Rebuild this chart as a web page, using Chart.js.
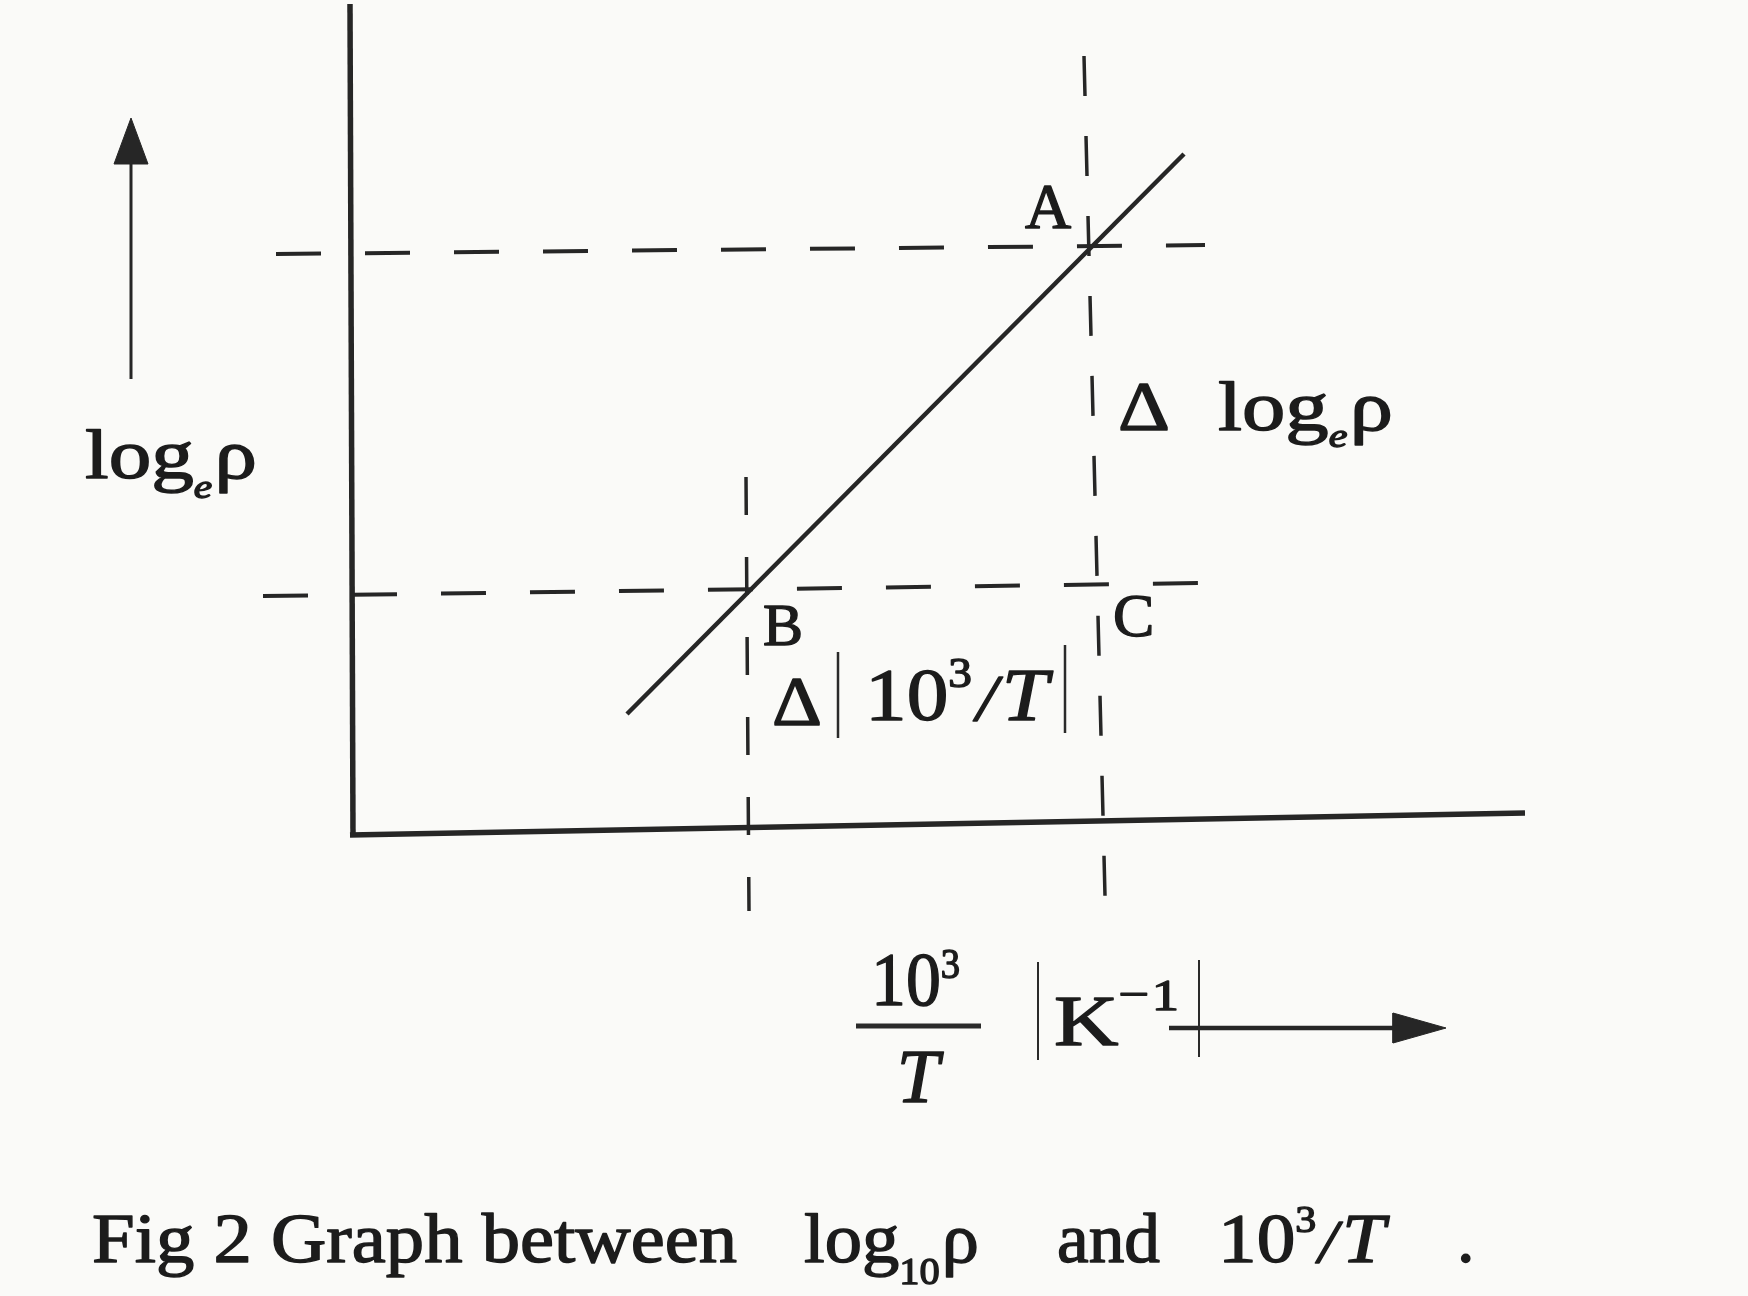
<!DOCTYPE html>
<html lang="en">
<head>
<meta charset="UTF-8">
<title>Graph between log10 ρ and 10³/T</title>
<script src="https://cdn.jsdelivr.net/npm/chart.js"></script>
<style>
  body { margin: 0; background: #fafaf8; }
  #wrap { width: 1748px; height: 1296px; }
  canvas { display: block; }
</style>
</head>
<body>
<div id="wrap"><canvas id="fig" width="1748" height="1296"></canvas></div>
<script>
// schematic values (x ~ 10^3/T, y ~ log_e rho, arbitrary units,
// origin at the corner of the axes)
const fitX = [2.77, 8.34];
const fitY = [1.21, 6.81];

const pointNames = ['A', 'B', 'C'];
const pointX = [7.40, 3.99, 7.47];
const pointY = [5.88, 2.41, 2.45];

// dashed construction lines through A and B
const levelAX = [-0.74, 8.55];
const levelAY = [5.81, 5.90];
const levelBX = [-0.87, 8.55];
const levelBY = [2.39, 2.52];
const dropBX = [3.96, 3.99];
const dropBY = [3.58, -0.76];
const dropAX = [7.34, 7.55];
const dropAY = [7.79, -0.61];

// axes (the scan is a little skewed)
const yAxisX = [0, 0.03];
const yAxisY = [8.31, 0];
const xAxisX = [0, 11.75];
const xAxisY = [0, 0.22];

// direction arrows next to the axis titles
const upShaftX = [-2.19, -2.19];
const upShaftY = [4.56, 6.80];
const upHeadX = [-2.19, -2.36, -2.02, -2.19];
const upHeadY = [7.17, 6.71, 6.71, 7.17];
const rightShaftX = [8.19, 10.50];
const rightShaftY = [-1.93, -1.93];
const rightHeadX = [10.96, 10.43, 10.43, 10.96];
const rightHeadY = [-1.93, -1.78, -2.08, -1.93];

const ink = '#262626';
const serif = '"Liberation Serif", "Times New Roman", serif';

const zip = (xs, ys) => xs.map((x, i) => ({ x: x, y: ys[i] }));

function lineSet(xs, ys, width, dash) {
  return {
    data: zip(xs, ys),
    showLine: true,
    borderColor: ink,
    borderWidth: width,
    borderDash: dash || [],
    borderCapStyle: 'butt',
    pointRadius: 0,
    fill: false,
    tension: 0
  };
}

function headSet(xs, ys) {
  return {
    data: zip(xs, ys),
    showLine: true,
    borderColor: ink,
    backgroundColor: ink,
    borderWidth: 1,
    pointRadius: 0,
    fill: 'shape'
  };
}

function fontOf(p) {
  return (p[2] ? 'italic ' : '') + p[1] + 'px ' + serif;
}

// draws a run of text pieces (text, size, italic, dy, gap), optionally stretched to a width
function drawGroup(ctx, x, y, parts, width, align) {
  let natural = 0;
  parts.forEach(p => {
    ctx.font = fontOf(p);
    natural += ctx.measureText(p[0]).width + (p[4] || 0);
  });
  const sx = width ? width / natural : 1;
  ctx.save();
  ctx.translate(align === 'center' ? x - natural * sx / 2 : x, y);
  ctx.scale(sx, 1);
  let cx = 0;
  parts.forEach(p => {
    ctx.font = fontOf(p);
    ctx.fillText(p[0], cx, p[3] || 0);
    ctx.strokeText(p[0], cx, p[3] || 0);
    cx += ctx.measureText(p[0]).width + (p[4] || 0);
  });
  ctx.restore();
}

const sketchText = {
  id: 'sketchText',
  beforeDraw(chart) {
    const ctx = chart.ctx;
    ctx.save();
    ctx.fillStyle = '#fafaf8';
    ctx.fillRect(0, 0, chart.width, chart.height);
    ctx.restore();
  },
  afterDatasetsDraw(chart, args, opts) {
    const ctx = chart.ctx;
    const xs = chart.scales.x, ys = chart.scales.y;
    const px = v => xs.getPixelForValue(v);
    const py = v => ys.getPixelForValue(v);
    ctx.save();
    ctx.fillStyle = '#1c1c1c';
    ctx.strokeStyle = '#1c1c1c';
    ctx.lineWidth = 1.4;
    ctx.lineJoin = 'round';
    ctx.textBaseline = 'alphabetic';
    ctx.textAlign = 'left';

    // point names next to the intersections
    pointNames.forEach((name, i) => {
      const off = opts.pointOffsets[i];
      drawGroup(ctx, px(pointX[i]) + off[0], py(pointY[i]) + off[1], [[name, off[2]]]);
    });

    opts.notes.forEach(n => {
      drawGroup(ctx, px(n.at[0]), py(n.at[1]), n.parts, n.w, n.align);
    });

    ctx.strokeStyle = '#2a2a2a';
    opts.rules.forEach(r => {
      ctx.lineWidth = r[4];
      ctx.beginPath();
      ctx.moveTo(px(r[0]), py(r[1]));
      ctx.lineTo(px(r[2]), py(r[3]));
      ctx.stroke();
    });
    ctx.restore();
  }
};

new Chart(document.getElementById('fig'), {
  type: 'scatter',
  data: {
    datasets: [
      lineSet(yAxisX, yAxisY, 5.5),
      lineSet(xAxisX, xAxisY, 5.5),
      lineSet(levelAX, levelAY, 4, [45, 44]),
      lineSet(levelBX, levelBY, 4, [45, 44]),
      lineSet(dropBX, dropBY, 3.5, [38, 42]),
      lineSet(dropAX, dropAY, 3.5, [40, 40]),
      lineSet(fitX, fitY, 4.5),
      lineSet(upShaftX, upShaftY, 3),
      headSet(upHeadX, upHeadY),
      lineSet(rightShaftX, rightShaftY, 4.5),
      headSet(rightHeadX, rightHeadY),
      { data: zip(pointX, pointY), pointRadius: 0, showLine: false }
    ]
  },
  options: {
    responsive: false,
    animation: false,
    events: [],
    layout: { padding: 0 },
    scales: {
      x: { type: 'linear', min: -3.5, max: 13.98, display: false },
      y: { type: 'linear', min: -4.61, max: 8.35, display: false }
    },
    plugins: {
      legend: { display: false },
      tooltip: { enabled: false },
      sketchText: {
        pointOffsets: [[-65, -19, 64], [14, 51, 60], [16, 46, 62]],
        notes: [
          // axis titles
          { at: [-2.65, 3.57], w: 172, parts: [['log', 70], ['e', 34, 1, 20, 2], ['ρ', 70]] },
          { at: [7.68, 4.05], w: 52, parts: [['Δ', 70]] },
          { at: [8.68, 4.05], w: 175, parts: [['log', 70], ['e', 34, 1, 17, 2], ['ρ', 70]] },
          { at: [4.22, 1.10], w: 50, parts: [['Δ', 70]] },
          { at: [5.15, 1.15], w: 183, parts: [['10', 74], ['3', 42, 0, -33, 4], ['/', 66, 1, 0, 4], ['T', 74, 1]] },
          { at: [5.21, -1.70], w: 91, parts: [['10', 76], ['3', 42, 0, -27, 2]] },
          { at: [5.68, -2.67], align: 'center', parts: [['T', 76, 1]] },
          { at: [7.04, -2.10], w: 125, parts: [['K', 72], ['−', 44, 0, -36, 2], ['1', 44, 0, -35]] },
          // caption
          { at: [-2.58, -4.27], w: 645, parts: [['Fig 2 Graph between', 70]] },
          { at: [4.54, -4.27], w: 175, parts: [['log', 70], ['10', 38, 0, 22, 2], ['ρ', 70]] },
          { at: [7.07, -4.27], w: 103, parts: [['and', 70]] },
          { at: [8.68, -4.27], w: 167, parts: [['10', 70], ['3', 38, 0, -30, 2], ['/', 62, 1, 0, 4], ['T', 70, 1]] },
          { at: [11.07, -4.27], parts: [['.', 70]] }
        ],
        rules: [
          [4.88, 1.83, 4.88, 0.97, 2.5],
          [7.15, 1.90, 7.15, 1.02, 2.5],
          [5.06, -1.91, 6.31, -1.91, 5],
          [6.88, -1.27, 6.88, -2.25, 2],
          [8.49, -1.25, 8.49, -2.22, 2]
        ]
      }
    }
  },
  plugins: [sketchText]
});
</script>
</body>
</html>
